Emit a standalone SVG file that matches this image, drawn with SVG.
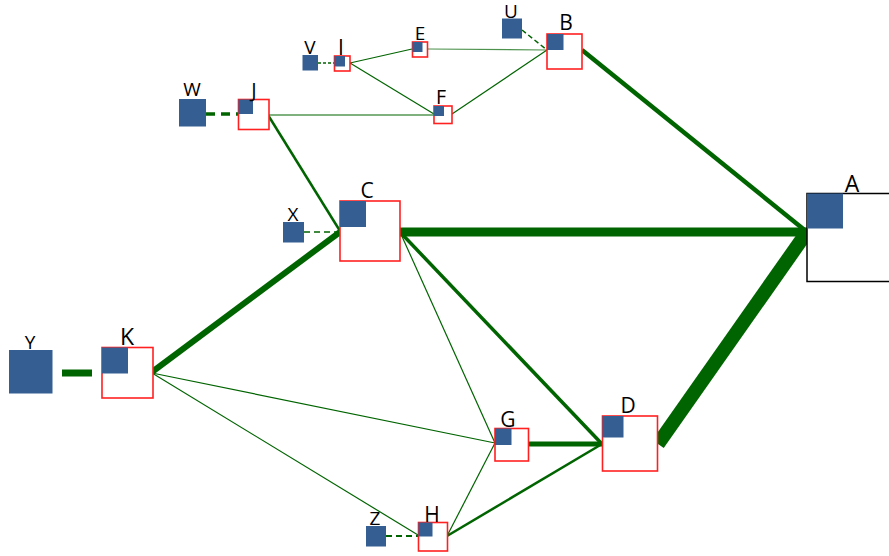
<svg xmlns="http://www.w3.org/2000/svg" width="889" height="556" viewBox="0 0 889 556">
<style>
.box{fill:#fff;stroke:#ff2020;stroke-width:1.6}
.sq{fill:#355e93}
.lbl{font-family:"Open Sans","Noto Sans",sans-serif;font-size:21px;fill:#000;text-anchor:middle}
.sm{font-size:19px}
.e{stroke:#006400;fill:none}
</style>
<rect width="889" height="556" fill="#fff"/>
<g id="connectors">
<line class="e" x1="582" y1="50" x2="807" y2="232" stroke-width="4.5"/>
<line class="e" x1="400" y1="232" x2="807" y2="232" stroke-width="9"/>
<line class="e" x1="658" y1="444" x2="807" y2="232" stroke-width="14"/>
<line class="e" x1="340" y1="232" x2="152" y2="372" stroke-width="6"/>
<line class="e" x1="400" y1="232" x2="602" y2="444" stroke-width="3.5"/>
<line class="e" x1="400" y1="232" x2="495" y2="443" stroke-width="1.2"/>
<line class="e" x1="268" y1="115" x2="340" y2="231" stroke-width="2.5"/>
<line class="e" x1="268" y1="115" x2="434" y2="115" stroke-width="1.2"/>
<line class="e" x1="350" y1="63" x2="412" y2="49" stroke-width="1.2"/>
<line class="e" x1="350" y1="63" x2="434" y2="114" stroke-width="1.2"/>
<line class="e" x1="428" y1="49" x2="547" y2="50" stroke-width="1.2" stroke-opacity="0.7"/>
<line class="e" x1="452" y1="114" x2="547" y2="50" stroke-width="1.2"/>
<line class="e" x1="152" y1="373" x2="495" y2="443" stroke-width="1.2"/>
<line class="e" x1="152" y1="373" x2="418" y2="535" stroke-width="1.2"/>
<line class="e" x1="529" y1="444" x2="602" y2="444" stroke-width="5"/>
<line class="e" x1="447" y1="536" x2="602" y2="444" stroke-width="2.5"/>
<line class="e" x1="447" y1="536" x2="495" y2="443" stroke-width="1.2"/>
<line class="e" x1="318" y1="63" x2="334" y2="63" stroke-width="1.5" stroke-dasharray="3,2"/>
<line class="e" x1="522" y1="30" x2="547" y2="50" stroke-width="1.5" stroke-dasharray="5,3"/>
<line class="e" x1="206" y1="114" x2="238" y2="114" stroke-width="3.5" stroke-dasharray="9,6"/>
<line class="e" x1="304" y1="232" x2="339" y2="232" stroke-width="1.5" stroke-dasharray="6,4"/>
<line class="e" x1="386" y1="536" x2="418" y2="536" stroke-width="2" stroke-dasharray="6,4"/>
<line class="e" x1="62" y1="373" x2="92" y2="373" stroke-width="7"/>
</g>
<g id="A"><rect x="807" y="193.5" width="88" height="88" fill="#fff" stroke="#000" stroke-width="1.5"/><rect class="sq" x="807" y="193.5" width="36" height="35"/><text class="lbl" x="852" y="192" style="font-size:23px">A</text></g>
<g id="B"><rect class="box" x="547" y="34" width="35" height="35"/><rect class="sq" x="547" y="34" width="16.5" height="16"/><text class="lbl" x="566" y="30">B</text></g>
<g id="C"><rect class="box" x="340" y="201" width="60" height="60"/><rect class="sq" x="340" y="201" width="26" height="26"/><text class="lbl" x="367" y="198">C</text></g>
<g id="D"><rect class="box" x="602.5" y="416" width="55" height="55"/><rect class="sq" x="602.5" y="416" width="21" height="21.5"/><text class="lbl" x="628" y="412.5">D</text></g>
<g id="E"><rect class="box" x="412.5" y="42" width="15" height="15"/><rect class="sq" x="412.5" y="42" width="10" height="10"/><text class="lbl" x="420" y="40" style="font-size:19px">E</text></g>
<g id="F"><rect class="box" x="434" y="106" width="18" height="17.5"/><rect class="sq" x="434" y="106" width="10" height="10"/><text class="lbl" x="441" y="104" style="font-size:19.5px">F</text></g>
<g id="G"><rect class="box" x="495" y="428.5" width="33.5" height="32.5"/><rect class="sq" x="495" y="428.5" width="16.5" height="16.5"/><text class="lbl" x="508" y="426.5">G</text></g>
<g id="H"><rect class="box" x="418.5" y="522.5" width="29" height="28.5"/><rect class="sq" x="418.5" y="522.5" width="14" height="14"/><text class="lbl" x="432" y="521.5">H</text></g>
<g id="I"><rect class="box" x="334.5" y="56" width="15.5" height="15"/><rect class="sq" x="334.5" y="56" width="10.5" height="10.5"/><text class="lbl" x="341" y="55">I</text></g>
<g id="J"><rect class="box" x="238.5" y="99.5" width="30.5" height="30"/><rect class="sq" x="238.5" y="99.5" width="14.5" height="14.5"/><text class="lbl" x="254" y="97" style="font-size:20px">J</text></g>
<g id="K"><rect class="box" x="102" y="347.5" width="51" height="50.5"/><rect class="sq" x="102" y="347.5" width="26" height="26"/><text class="lbl" x="127" y="345" style="font-size:23px">K</text></g>
<g id="U"><rect class="sq" x="502" y="18.5" width="20" height="20"/><text class="lbl sm" x="511" y="17.5">U</text></g>
<g id="V"><rect class="sq" x="302.5" y="55" width="15.5" height="15.5"/><text class="lbl sm" x="310" y="53.5">V</text></g>
<g id="W"><rect class="sq" x="179" y="99" width="27" height="27.5"/><text class="lbl sm" x="192" y="96">W</text></g>
<g id="X"><rect class="sq" x="283" y="222" width="21" height="20.5"/><text class="lbl sm" x="293" y="220.5">X</text></g>
<g id="Y"><rect class="sq" x="9" y="350" width="43.5" height="43.5"/><text class="lbl sm" x="30" y="348.5">Y</text></g>
<g id="Z"><rect class="sq" x="366" y="526" width="20" height="20.5"/><text class="lbl sm" x="375" y="525">Z</text></g>
</svg>
